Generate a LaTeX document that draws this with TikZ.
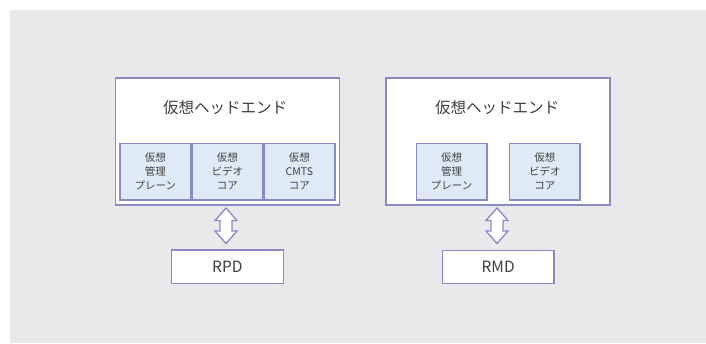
\documentclass[tikz,border=0pt]{standalone}
\usepackage{fontspec}
\setmainfont{Noto Sans CJK JP}
\definecolor{bg}{HTML}{E9E9EB}
\definecolor{bd}{HTML}{8A8AC4}
\definecolor{sub}{HTML}{DEEBF7}
\definecolor{tx}{HTML}{404040}
\begin{document}
\begin{tikzpicture}[x=1pt,y=-1pt,
  outerbox/.style={draw=bd,line width=1.5pt,fill=white},
  subbox/.style={draw=bd,line width=1.5pt,fill=sub,text=tx,font=\fontsize{10.5}{14}\selectfont,align=center},
  devbox/.style={draw=bd,line width=1.3pt,fill=white,text=tx,font=\fontsize{15.5}{17}\selectfont},
  titletext/.style={text=tx,font=\fontsize{15.5}{18}\selectfont},
  dblarrow/.style={draw=bd,line width=1.3pt,fill=white,line join=miter}]
\useasboundingbox (0,0) rectangle (706,343);
\fill[bg] (10,10) rectangle (706,343);
% left
\node[outerbox,minimum width=224pt,minimum height=127pt,anchor=north west,inner sep=0] (L) at (114.7,77) {};
\node[titletext] (Lt) at (225,108) {仮想ヘッドエンド};
\node[subbox,minimum width=70.7pt,minimum height=56.6pt,inner sep=0,anchor=north west] (L1) at (119.3,142.7) {仮想\\管理\\プレーン};
\node[subbox,minimum width=70pt,minimum height=56.6pt,inner sep=0,anchor=north west] (L2) at (191.7,142.7) {仮想\\ビデオ\\コア};
\node[subbox,minimum width=70.7pt,minimum height=56.6pt,inner sep=0,anchor=north west] (L3) at (263.3,142.7) {仮想\\CMTS\\コア};
\node[devbox,minimum width=112pt,minimum height=33.4pt,inner sep=0,anchor=north west] (RPD) at (170.7,249.3) {RPD};
% right
\node[outerbox,minimum width=223.7pt,minimum height=127pt,anchor=north west,inner sep=0] (R) at (385.3,77) {};
\node[titletext] (Rt) at (497,108) {仮想ヘッドエンド};
\node[subbox,minimum width=70.3pt,minimum height=56.6pt,inner sep=0,anchor=north west] (R1) at (415.7,142.7) {仮想\\管理\\プレーン};
\node[subbox,minimum width=70.6pt,minimum height=56.6pt,inner sep=0,anchor=north west] (R2) at (508.7,142.7) {仮想\\ビデオ\\コア};
\node[devbox,minimum width=111.6pt,minimum height=33pt,inner sep=0,anchor=north west] (RMD) at (441.7,250) {RMD};
% arrows
\coordinate (A1) at (226,208);
\coordinate (A2) at (497,208);
\foreach \c in {A1,A2}{
  \draw[dblarrow] (\c) -- ++(11,12.5) -- ++(-5,0) -- ++(0,10.5) -- ++(5,0)
    -- ++(-11,12.5) -- ++(-11,-12.5) -- ++(5,0) -- ++(0,-10.5) -- ++(-5,0) -- cycle;
}
\end{tikzpicture}
\end{document}
